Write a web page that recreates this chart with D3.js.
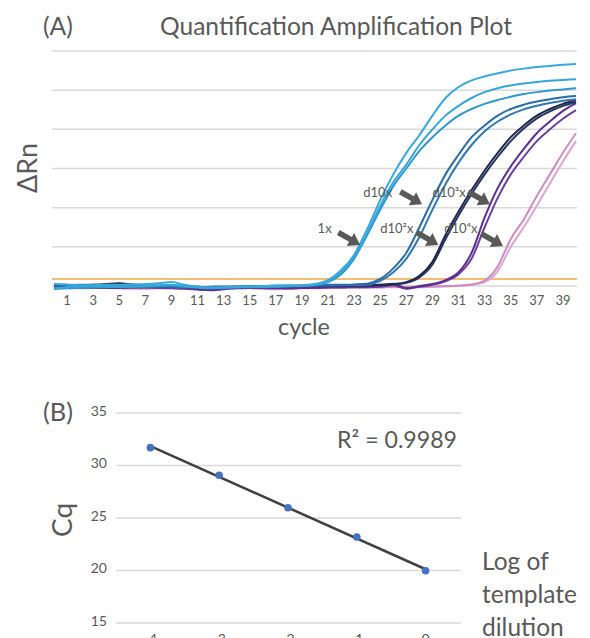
<!DOCTYPE html>
<html>
<head>
<meta charset="utf-8">
<script src="https://cdn.jsdelivr.net/npm/d3@7"></script>
<style>
  html, body { margin: 0; padding: 0; background: #ffffff; }
  svg { display: block; }
</style>
</head>
<body>
<svg id="chart" width="590" height="638"></svg>
<script>
// ---------- Panel A: amplification curves (ΔRn per cycle) ----------
const cycles = [0,1,2,3,4,5,6,7,8,9,10,11,12,13,14,15,16,17,18,19,20,
                21,22,23,24,25,26,27,28,29,30,31,32,33,34,35,36,37,38,39,40];
const cycleTickLabels = [1,3,5,7,9,11,13,15,17,19,21,23,25,27,29,31,33,35,37,39];
const deltaRnGrid = [0,1,2,3,4,5,6];
const thresholdDeltaRn = 0.18;

// 1x (three replicates)
const rn1x_a = [-0.06,-0.03,0.00,0.02,0.03,0.03,0.04,0.05,0.07,0.10,0.03,-0.02,-0.04,-0.03,-0.02,-0.01,0.00,0.00,0.01,0.02,
                0.05,0.15,0.40,0.80,1.45,2.20,2.85,3.40,3.85,4.35,4.80,5.08,5.25,5.35,5.43,5.50,5.55,5.59,5.62,5.65,5.67];
const rn1x_b = [0.05,0.04,0.02,0.00,-0.01,-0.02,-0.01,0.00,0.02,0.03,0.00,-0.03,-0.05,-0.04,-0.03,-0.02,-0.02,-0.01,0.00,0.01,
                0.03,0.12,0.35,0.75,1.35,2.05,2.65,3.10,3.60,4.00,4.35,4.60,4.80,4.95,5.05,5.12,5.17,5.21,5.24,5.26,5.28];
const rn1x_c = [-0.08,-0.06,-0.05,-0.04,-0.03,-0.02,-0.02,-0.01,0.00,0.01,-0.02,-0.04,-0.06,-0.05,-0.04,-0.03,-0.02,-0.02,-0.01,0.00,
                0.02,0.10,0.30,0.70,1.30,1.95,2.55,3.00,3.45,3.80,4.10,4.35,4.52,4.65,4.75,4.83,4.90,4.95,4.99,5.02,5.05];
// d10x
const rnD1_a = [0.00,0.02,0.03,0.03,0.02,0.01,0.00,-0.01,-0.02,-0.02,-0.03,-0.03,-0.02,-0.01,-0.01,0.00,0.00,0.01,0.01,0.02,0.02,0.03,0.03,0.04,
                0.06,0.18,0.45,0.85,1.50,2.20,2.85,3.35,3.80,4.10,4.35,4.52,4.63,4.71,4.77,4.82,4.85];
const rnD1_b = [0.03,0.01,-0.01,-0.02,-0.03,-0.03,-0.02,-0.02,-0.01,0.00,-0.01,-0.02,-0.03,-0.03,-0.02,-0.02,-0.01,-0.01,0.00,0.00,0.01,0.01,0.02,0.02,
                0.03,0.13,0.35,0.70,1.25,1.95,2.60,3.15,3.60,3.95,4.20,4.38,4.51,4.60,4.67,4.73,4.77];
// d10²x
const rnD2_a = [0.02,0.00,0.01,0.03,0.05,0.07,0.04,0.02,0.00,-0.01,-0.02,-0.03,-0.04,-0.03,-0.03,-0.02,-0.02,-0.01,-0.01,0.00,0.00,0.00,0.01,0.01,0.02,0.03,0.05,
                0.10,0.26,0.62,1.30,1.90,2.45,2.95,3.40,3.80,4.10,4.35,4.52,4.65,4.75];
const rnD2_b = [-0.02,-0.01,0.00,0.01,0.02,0.03,0.02,0.01,0.00,-0.01,-0.02,-0.02,-0.03,-0.03,-0.02,-0.02,-0.01,-0.01,0.00,0.00,0.00,0.01,0.01,0.02,0.02,0.03,0.04,
                0.08,0.22,0.55,1.20,1.80,2.35,2.85,3.30,3.70,4.02,4.28,4.46,4.60,4.70];
// d10³x
const rnD3_a = [0.00,-0.02,-0.03,-0.04,-0.05,-0.05,-0.04,-0.03,-0.02,0.02,-0.04,-0.08,-0.10,-0.07,-0.05,-0.04,-0.04,-0.05,-0.06,-0.05,-0.04,-0.03,-0.02,-0.02,-0.01,0.00,0.06,-0.06,0.00,
                0.05,0.15,0.35,0.85,1.75,2.50,3.05,3.50,3.90,4.20,4.47,4.67];
const rnD3_b = [-0.04,-0.05,-0.05,-0.04,-0.03,-0.02,-0.03,-0.04,-0.05,-0.06,-0.07,-0.09,-0.11,-0.08,-0.06,-0.05,-0.05,-0.06,-0.06,-0.05,-0.05,-0.04,-0.04,-0.03,-0.03,-0.02,0.02,-0.07,-0.02,
                0.03,0.12,0.30,0.70,1.50,2.25,2.85,3.30,3.70,4.00,4.27,4.49];
// d10⁴x
const rnD4_a = [-0.03,-0.04,-0.05,-0.05,-0.04,-0.04,-0.05,-0.06,-0.05,-0.04,-0.05,-0.07,-0.08,-0.06,-0.05,-0.05,-0.06,-0.07,-0.06,-0.05,-0.05,-0.04,-0.04,-0.03,-0.03,-0.03,-0.02,-0.02,-0.02,-0.01,0.00,0.01,
                0.04,0.14,0.50,1.20,1.70,2.30,2.85,3.40,3.90];
const rnD4_b = [-0.05,-0.06,-0.06,-0.05,-0.05,-0.06,-0.07,-0.07,-0.06,-0.05,-0.06,-0.08,-0.09,-0.07,-0.06,-0.06,-0.07,-0.08,-0.07,-0.06,-0.06,-0.05,-0.05,-0.04,-0.04,-0.04,-0.03,-0.03,-0.03,-0.02,-0.01,0.00,
                0.03,0.10,0.38,1.00,1.50,2.05,2.62,3.18,3.70];

const dilutionLabels = ["1x", "d10x", "d10²x", "d10³x", "d10⁴x"];

// ---------- Panel B: standard curve ----------
const logDilution = [-4, -3, -2, -1, 0];
const cqValues = [31.70, 29.07, 25.98, 23.19, 19.98];
const cqTicks = [15, 20, 25, 30, 35];
const rSquaredText = "R² = 0.9989";

// ---------- drawing ----------
const FONT = "Lato, 'Open Sans', sans-serif";
const TEXT = "#595959";
const GRID = "#d9d9d9";
const svg = d3.select("#chart");

function fitText(sel, width) {
  const len = sel.node().getComputedTextLength();
  const fs = parseFloat(sel.attr("font-size"));
  sel.attr("font-size", (fs * width / len).toFixed(2));
  return sel;
}

// Panel A scales
const xA = d3.scaleLinear().domain([0, 40]).range([54, 576]);
const yA = d3.scaleLinear().domain([0, 6]).range([286, 51]);
const gridLeftA = 52, gridRightA = 577;

const gA = svg.append("g");
gA.selectAll("line.grid").data(deltaRnGrid).join("line")
  .attr("x1", gridLeftA).attr("x2", gridRightA)
  .attr("y1", d => yA(d)).attr("y2", d => yA(d))
  .attr("stroke", GRID).attr("stroke-width", 1.5);

gA.append("line")
  .attr("x1", gridLeftA).attr("x2", gridRightA)
  .attr("y1", yA(thresholdDeltaRn)).attr("y2", yA(thresholdDeltaRn))
  .attr("stroke", "#f4bd75").attr("stroke-width", 2);

const curves = [
  { values: rnD4_b, color: "#d9a6d2" },
  { values: rnD4_a, color: "#cc8cc2" },
  { values: rnD3_b, color: "#6b3f9e" },
  { values: rnD3_a, color: "#5d2e8e" },
  { values: rnD2_b, color: "#26335e" },
  { values: rnD2_a, color: "#1e2850" },
  { values: rnD1_b, color: "#2f78b4" },
  { values: rnD1_a, color: "#2a6ca8" },
  { values: rn1x_c, color: "#3197d0" },
  { values: rn1x_b, color: "#35a5da" },
  { values: rn1x_a, color: "#38a9dc" }
];

const line = d3.line()
  .x((d, i) => xA(cycles[i]))
  .y(d => yA(d))
  .curve(d3.curveMonotoneX);

gA.selectAll("path.curve").data(curves).join("path")
  .attr("d", d => line(d.values))
  .attr("fill", "none")
  .attr("stroke", d => d.color)
  .attr("stroke-width", 2)
  .attr("stroke-linejoin", "round");

// cycle tick labels
gA.selectAll("text.xt").data(cycleTickLabels).join("text")
  .attr("x", d => xA(d)).attr("y", 305)
  .attr("text-anchor", "middle")
  .attr("font-family", FONT).attr("font-size", 13).attr("fill", TEXT)
  .text(d => d);

// annotation labels and block arrows, anchored in (cycle, ΔRn) space
const annotations = [
  { label: dilutionLabels[0], tx: 20.2, ty: 1.35, ax: 23.45, ay: 1.05 },
  { label: dilutionLabels[1], tx: 23.7, ty: 2.27, ax: 28.2, ay: 2.09 },
  { label: dilutionLabels[2], tx: 25.0, ty: 1.35, ax: 29.45, ay: 1.05 },
  { label: dilutionLabels[3], tx: 29.0, ty: 2.27, ax: 33.4, ay: 2.09 },
  { label: dilutionLabels[4], tx: 29.9, ty: 1.35, ax: 34.4, ay: 1.02 }
];

gA.selectAll("text.ann").data(annotations).join("text")
  .attr("x", d => xA(d.tx)).attr("y", d => yA(d.ty))
  .attr("font-family", FONT).attr("font-size", 13).attr("fill", TEXT)
  .text(d => d.label);

const arrowLen = 25, headLen = 11, headHalf = 7.5, shaftHalf = 2.8;
const arrowShape = [
  [-arrowLen, -shaftHalf], [-headLen, -shaftHalf], [-headLen, -headHalf],
  [0, 0], [-headLen, headHalf], [-headLen, shaftHalf], [-arrowLen, shaftHalf]
];
const arrowAngle = Math.atan2(12, 21) * 180 / Math.PI;
gA.selectAll("path.arrow").data(annotations).join("path")
  .attr("transform", d => `translate(${xA(d.ax)},${yA(d.ay)}) rotate(${arrowAngle})`)
  .attr("d", d3.line()(arrowShape) + "Z")
  .attr("fill", "#595959");

// Panel A titles
svg.append("text").attr("x", 43).attr("y", 35)
  .attr("font-family", FONT).attr("font-size", 20).attr("fill", TEXT)
  .text("(A)").call(s => fitText(s, 30));
svg.append("text").attr("x", 160).attr("y", 35)
  .attr("font-family", FONT).attr("font-size", 20).attr("fill", TEXT)
  .text("Quantification Amplification Plot").call(s => fitText(s, 352));
svg.append("text")
  .attr("transform", "translate(37,168) rotate(-90)")
  .attr("text-anchor", "middle")
  .attr("font-family", FONT).attr("font-size", 20).attr("fill", TEXT)
  .text("ΔRn").call(s => fitText(s, 50));
svg.append("text").attr("x", 278).attr("y", 335)
  .attr("font-family", FONT).attr("font-size", 20).attr("fill", TEXT)
  .text("cycle").call(s => fitText(s, 52));

// Panel B scales
const xB = d3.scaleLinear().domain([-4.5, 0.5]).range([116, 460]);
const yB = d3.scaleLinear().domain([15, 35]).range([623, 413]);
const gB = svg.append("g");

gB.selectAll("line.grid").data(cqTicks).join("line")
  .attr("x1", 116).attr("x2", 461)
  .attr("y1", d => yB(d)).attr("y2", d => yB(d))
  .attr("stroke", GRID).attr("stroke-width", 1.5);

gB.selectAll("text.yt").data(cqTicks).join("text")
  .attr("x", 107).attr("y", d => yB(d) + 2.5)
  .attr("text-anchor", "end")
  .attr("font-family", FONT).attr("font-size", 14).attr("fill", TEXT)
  .text(d => d);

gB.selectAll("text.xt").data(logDilution).join("text")
  .attr("x", d => xB(d)).attr("y", 644)
  .attr("text-anchor", "middle")
  .attr("font-family", FONT).attr("font-size", 14).attr("fill", TEXT)
  .text(d => d);

// least-squares trendline through the standard points
const mx = d3.mean(logDilution), my = d3.mean(cqValues);
const sxy = d3.sum(logDilution, (x, i) => (x - mx) * (cqValues[i] - my));
const sxx = d3.sum(logDilution, x => (x - mx) * (x - mx));
const slope = sxy / sxx, intercept = my - slope * mx;
const xMin = d3.min(logDilution), xMax = d3.max(logDilution);
gB.append("line")
  .attr("x1", xB(xMin)).attr("y1", yB(intercept + slope * xMin))
  .attr("x2", xB(xMax)).attr("y2", yB(intercept + slope * xMax))
  .attr("stroke", "#404040").attr("stroke-width", 2.5);

gB.selectAll("circle").data(logDilution).join("circle")
  .attr("cx", d => xB(d)).attr("cy", (d, i) => yB(cqValues[i]))
  .attr("r", 3.8).attr("fill", "#4472c4");

svg.append("text").attr("x", 43).attr("y", 421)
  .attr("font-family", FONT).attr("font-size", 20).attr("fill", TEXT)
  .text("(B)").call(s => fitText(s, 30));
svg.append("text")
  .attr("transform", "translate(72,520) rotate(-90)")
  .attr("text-anchor", "middle")
  .attr("font-family", FONT).attr("font-size", 24).attr("fill", TEXT)
  .text("Cq").call(s => fitText(s, 34));
svg.append("text").attr("x", 457).attr("y", 448)
  .attr("text-anchor", "end")
  .attr("font-family", FONT).attr("font-size", 20).attr("fill", TEXT)
  .text(rSquaredText).call(s => fitText(s, 120));

const axisTitleB = ["Log of", "template", "dilution"];
const tB = svg.selectAll("text.axB").data(axisTitleB).join("text")
  .attr("x", 482).attr("y", (d, i) => 570 + i * 33)
  .attr("font-family", FONT).attr("font-size", 22).attr("fill", TEXT)
  .text(d => d);
{
  const ref = tB.filter(d => d === "template");
  const len = ref.node().getComputedTextLength();
  tB.attr("font-size", (22 * 95 / len).toFixed(2));
}
</script>
</body>
</html>
